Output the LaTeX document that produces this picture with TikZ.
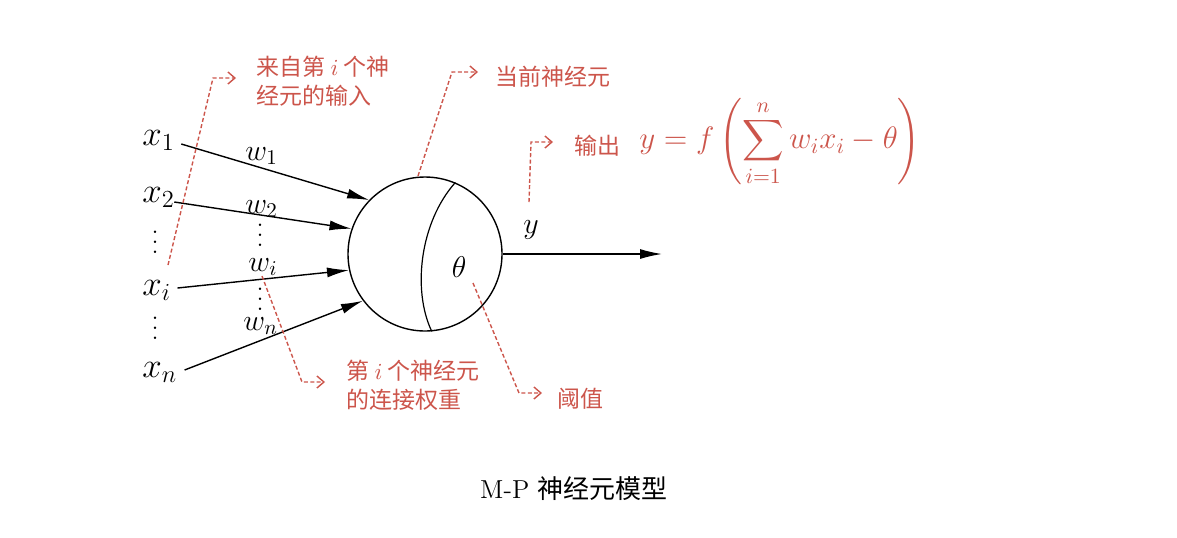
\RequirePackage{fix-cm}
\documentclass[tikz,border=0pt]{standalone}
\usepackage{amsmath}
\usepackage{fontspec}
\newfontfamily\cjk{Noto Sans CJK SC}
\usetikzlibrary{arrows.meta}
\definecolor{annred}{RGB}{204,85,75}
\newcommand{\dotcol}{\vbox{\baselineskip=5pt\lineskiplimit=0pt\hbox{.}\hbox{.}\hbox{.}}}
\begin{document}
\begin{tikzpicture}[x=0.5pt,y=-0.5pt,
  lbl/.style={inner sep=0pt, font=\fontsize{15}{18}\selectfont},
  xlbl/.style={inner sep=0pt, font=\fontsize{17.5}{20}\selectfont},
  inarrow/.style={line width=0.7pt, -{Latex[length=11pt,width=5pt]}},
  ann/.style={draw=annred, line width=0.7pt, dash pattern=on 2pt off 1.2pt, -{Straight Barb[length=3.5pt,width=6pt]}},
  anntext/.style={text=annred, inner sep=0pt, anchor=west, align=left, font=\cjk\fontsize{11.5}{14.5}\selectfont},
  dotsn/.style={inner sep=0pt, font=\fontsize{15}{18}\selectfont}]
\useasboundingbox (0,0) rectangle (1177,537);

% neuron
\node[draw, circle, line width=0.7pt, minimum size=77pt, inner sep=0pt] (neuron) at (425,254) {};
\draw[line width=0.6pt] (neuron.67) .. controls (420,222) and (412,290) .. (neuron.-85);
\node[lbl] (theta) at (459,267) {$\theta$};

% inputs
\node[xlbl, anchor=base west] (x1) at (142,145) {$x_1$};
\node[xlbl, anchor=base west] (x2) at (142,202) {$x_2$};
\node[xlbl, anchor=base west] (xi) at (142,295) {$x_i$};
\node[xlbl, anchor=base west] (xn) at (142,377) {$x_n$};
\node[dotsn] (d1) at (155,242) {\dotcol};
\node[dotsn] (d2) at (155,328) {\dotcol};

\node[lbl, anchor=base west] (w1) at (245,160) {$w_1$};
\node[lbl, anchor=base west] (w2) at (245,213) {$w_2$};
\node[lbl, anchor=base west] (wi) at (248,271) {$w_i$};
\node[lbl, anchor=base west] (wn) at (243,330) {$w_n$};
\node[dotsn] (d3) at (260,235) {\dotcol};
\node[dotsn] (d4) at (260,299) {\dotcol};

\draw[inarrow] ([shift={(6,-1)}]x1.base east) -- (neuron.136);
\draw[inarrow] ([shift={(-1,0)}]x2.base east) -- (neuron.161);
\draw[inarrow] ([shift={(6,-7)}]xi.base east) -- (neuron.192);
\draw[inarrow] ([shift={(7,-7)}]xn.base east) -- (neuron.217);

% output
\node[lbl] (y) at (531,230) {$y$};
\coordinate (out) at (662,254);
\draw[inarrow] (neuron.east) -- (out);

% annotations
\node[anntext] (t1) at (256,81) {来自第 $i$ 个神\\经元的输入};
\node[anntext] (t2) at (495,77) {当前神经元};
\node[anntext] (t3) at (574,146) {输出};
\node[anntext] (t4) at (346,385) {第 $i$ 个神经元\\的连接权重};
\node[anntext] (t5) at (557,399) {阈值};
\node[text=annred, inner sep=0pt, anchor=west, font=\fontsize{15.5}{18}\selectfont] (f) at (639,142)
  {$\displaystyle y=f\left(\sum_{i=1}^{n} w_i x_i-\theta\right)$};

\coordinate (a1) at (168,265);
\coordinate (c1) at (213,78);
\draw[ann] (a1) -- (c1) -- ([shift={(-20,-3)}]t1.west);
\coordinate (a2) at (418,176);
\coordinate (c2) at (452,72);
\draw[ann] (a2) -- (c2) -- ([shift={(-17,-5)}]t2.west);
\coordinate (a3) at (529,202);
\coordinate (c3) at (531,142);
\draw[ann] (a3) -- (c3) -- ([shift={(-21,-4)}]t3.west);
\coordinate (a4) at (262,276);
\coordinate (c4) at (302,382);
\draw[ann] (a4) -- (c4) -- ([shift={(-21,-3)}]t4.west);
\coordinate (a5) at (473,283);
\coordinate (c5) at (519,393);
\draw[ann] (a5) -- (c5) -- ([shift={(-15,-6)}]t5.west);

% caption
\node[inner sep=0pt, font=\fontsize{13}{16}\selectfont] (cap) at (574,489) {M-P {\cjk 神经元模型}};
\end{tikzpicture}
\end{document}
